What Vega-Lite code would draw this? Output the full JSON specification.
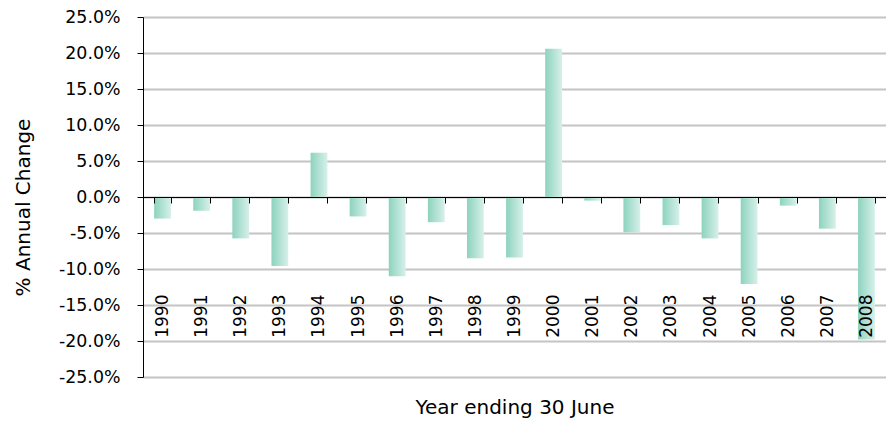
{
  "$schema": "https://vega.github.io/schema/vega-lite/v6.json",
  "width": 743,
  "height": 360,
  "autosize": "none",
  "padding": {"left": 143, "top": 17, "right": 0, "bottom": 46},
  "background": "white",
  "config": {"view": {"stroke": null}, "font": "DejaVu Sans"},
  "data": {
    "values": [
      {"year": "1990", "change": -0.030},
      {"year": "1991", "change": -0.019},
      {"year": "1992", "change": -0.0575},
      {"year": "1993", "change": -0.096},
      {"year": "1994", "change": 0.0615},
      {"year": "1995", "change": -0.027},
      {"year": "1996", "change": -0.110},
      {"year": "1997", "change": -0.035},
      {"year": "1998", "change": -0.085},
      {"year": "1999", "change": -0.084},
      {"year": "2000", "change": 0.206},
      {"year": "2001", "change": -0.005},
      {"year": "2002", "change": -0.049},
      {"year": "2003", "change": -0.039},
      {"year": "2004", "change": -0.0575},
      {"year": "2005", "change": -0.121},
      {"year": "2006", "change": -0.012},
      {"year": "2007", "change": -0.044},
      {"year": "2008", "change": -0.198}
    ]
  },
  "mark": {
    "type": "bar",
    "color": {
      "gradient": "linear",
      "x1": 0, "y1": 0, "x2": 1, "y2": 0,
      "stops": [
        {"offset": 0, "color": "#8dd3be"},
        {"offset": 1, "color": "#d7f0e9"}
      ]
    }
  },
  "encoding": {
    "x": {
      "field": "year",
      "type": "ordinal",
      "scale": {"paddingInner": 0.57, "paddingOuter": 0.285},
      "axis": {
        "orient": "bottom",
        "offset": -180,
        "zindex": 1,
        "title": "Year ending 30 June",
        "labelAngle": -90,
        "labelAlign": "right",
        "labelBaseline": "middle",
        "labelPadding": 91,
        "labelOverlap": false,
        "tickBand": "extent",
        "tickSize": 6,
        "tickColor": "black",
        "domainColor": "black",
        "labelFontSize": 17,
        "labelColor": "black",
        "titleFontSize": 20,
        "titleFontWeight": "normal",
        "titleColor": "black",
        "titlePadding": 60,
        "grid": false
      }
    },
    "y": {
      "field": "change",
      "type": "quantitative",
      "scale": {"domain": [-0.25, 0.25], "nice": false},
      "axis": {
        "values": [-0.25, -0.2, -0.15, -0.1, -0.05, 0, 0.05, 0.1, 0.15, 0.2, 0.25],
        "format": ".1%",
        "labelExpr": "replace(datum.label, '−', '-')",
        "title": "% Annual Change",
        "titleY": 190,
        "grid": true,
        "gridColor": "#c4c4c4",
        "gridWidth": 2,
        "gridOpacity": 1,
        "domainColor": "black",
        "tickColor": "black",
        "tickSize": 6,
        "labelFontSize": 17.4,
        "labelPadding": 17,
        "labelColor": "black",
        "titleFontSize": 20,
        "titleFontWeight": "normal",
        "titlePadding": 25,
        "titleColor": "black"
      }
    }
  }
}
